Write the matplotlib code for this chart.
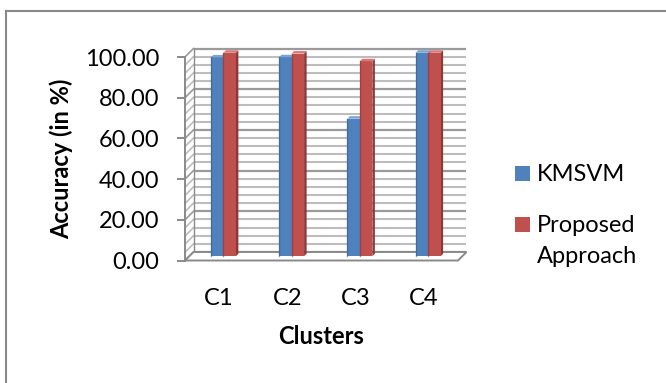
import matplotlib
matplotlib.use("Agg")
import matplotlib.pyplot as plt
from matplotlib.patches import Polygon, Rectangle
from matplotlib.lines import Line2D

# ---- data ----
clusters = ["C1", "C2", "C3", "C4"]
series_names = ["KMSVM", "Proposed\nApproach"]
kmsvm = [97.7, 97.8, 67.6, 100.0]
proposed = [100.0, 99.6, 95.8, 100.0]
y_ticks = [0, 20, 40, 60, 80, 100]
y_tick_labels = ["0.00", "20.00", "40.00", "60.00", "80.00", "100.00"]
colors = ["#4F81BD", "#C0504D"]
side_colors = ["#385D8A", "#8C3836"]
top_colors = ["#7aa3d6", "#d77a77"]

W, H = 666, 383
fig = plt.figure(figsize=(W / 100, H / 100), dpi=100)
plt.rcParams["font.family"] = ["Lato", "DejaVu Sans"]
FS = 17

# front plane of the plot (pixel coordinates, origin top-left)
L, R, T, B = 185, 458, 57, 260.5
ax = fig.add_axes([L / W, 1 - B / H, (R - L) / W, (B - T) / H])
ax.set_xlim(-0.5, 3.5)
ax.set_ylim(0, 100)
for s in ax.spines.values():
    s.set_visible(False)

px_x = (R - L) / 4.0       # pixels per x unit
px_y = (B - T) / 100.0     # pixels per y unit
DX = 8.5 / px_x            # depth offset of the back wall
DY = 8.5 / px_y

grid_minor = "#bdbdbd"
grid_major = "#9a9a9a"
edge = "#8a8a8a"
x0, x1 = -0.5, 3.5

# back wall grid + side wall diagonals
for v in range(0, 101, 4):
    major = v % 20 == 0
    c = grid_major if major else grid_minor
    lw = 1.6 if major else 1.5
    ax.plot([x0 + DX, x1 + DX], [v + DY, v + DY], color=c, lw=lw,
            clip_on=False, zorder=1, solid_capstyle="butt")
    ax.plot([x0, x0 + DX], [v, v + DY], color=c, lw=1.2,
            clip_on=False, zorder=1)
# back wall left edge
ax.plot([x0 + DX, x0 + DX], [DY, 100 + DY], color=edge, lw=1.0,
        clip_on=False, zorder=1)
# floor
ax.add_patch(Polygon([[x0, 0], [x1, 0], [x1 + DX, DY], [x0 + DX, DY]],
                     closed=True, facecolor="white", edgecolor=edge,
                     lw=1.4, clip_on=False, zorder=1.5))
# front vertical axis line
ax.plot([x0, x0], [0, 100], color=edge, lw=1.4, clip_on=False, zorder=2)

# bars (placed halfway into the depth)
bw = 0.183
base = DY / 2
bdx = 2.5 / px_x
bdy = 2.5 / px_y
for k, (vals, c, sc, tc) in enumerate(zip([kmsvm, proposed], colors,
                                          side_colors, top_colors)):
    xs = [i + DX / 2 - bw + k * bw + bw / 2 for i in range(len(clusters))]
    bars = ax.bar(xs, vals, width=bw, bottom=base, color=c,
                  edgecolor="none", zorder=3 + k, clip_on=False,
                  label=series_names[k])
    for b in bars:
        bx0 = b.get_x()
        bx1 = bx0 + b.get_width()
        by0 = b.get_y()
        by1 = by0 + b.get_height()
        ax.add_patch(Polygon([[bx1, by0], [bx1 + bdx, by0 + bdy],
                              [bx1 + bdx, by1 + bdy], [bx1, by1]],
                             closed=True, facecolor=sc, edgecolor="none",
                             zorder=2.9 + k, clip_on=False))
        ax.add_patch(Polygon([[bx0, by1], [bx1, by1],
                              [bx1 + bdx, by1 + bdy], [bx0 + bdx, by1 + bdy]],
                             closed=True, facecolor=tc, edgecolor="none",
                             zorder=3.05 + k, clip_on=False))
        # soft darker edge on the front face
        ax.plot([bx0, bx0], [by0, by1], color=sc, lw=1.0, alpha=0.6,
                zorder=3.1 + k, clip_on=False)

# ticks and labels
ax.set_yticks(y_ticks)
ax.set_yticklabels(y_tick_labels, fontsize=FS)
ax.tick_params(axis="y", length=8 * 72 / 100, width=1.4, color=edge,
               pad=13, direction="out")
ax.set_xticks(range(len(clusters)))
ax.set_xticklabels(clusters, fontsize=FS)
ax.tick_params(axis="x", length=0, pad=20)
ax.set_xlabel("Clusters", fontsize=FS, fontweight="bold", labelpad=11)
ax.set_ylabel("Accuracy (in %)", fontsize=FS, fontweight="bold",
              labelpad=8)

# legend
leg_items = [166, 217]
for sq_top, name, c in zip(leg_items, series_names, colors):
    fig.patches.append(Rectangle((515 / W, 1 - (sq_top + 15) / H),
                                 15 / W, 15 / H, transform=fig.transFigure,
                                 facecolor=c, edgecolor="none"))
    fig.text(537 / W, 1 - (sq_top - 2) / H, name, fontsize=FS,
             va="top", ha="left", linespacing=1.6)

# chart border
fig.lines.append(Line2D([6 / W, 1.0], [1 - 11 / H, 1 - 11 / H],
                        transform=fig.transFigure, color="#898989", lw=1.5))
fig.lines.append(Line2D([6 / W, 6 / W], [0, 1 - 11 / H],
                        transform=fig.transFigure, color="#898989", lw=1.5))

fig.savefig("out.png", dpi=100)
